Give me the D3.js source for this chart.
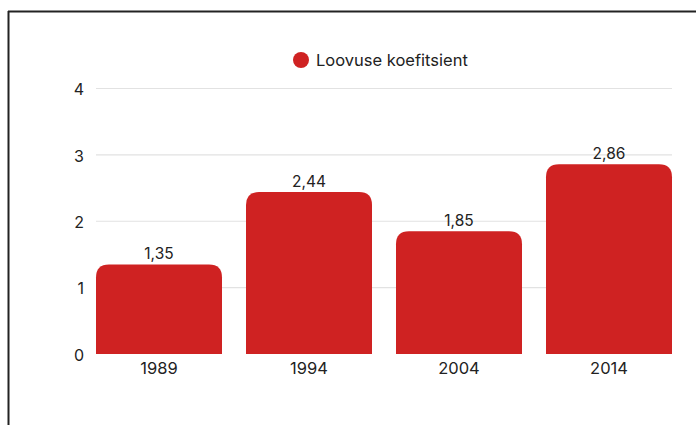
<!DOCTYPE html>
<html>
<head>
<meta charset="utf-8">
<script src="https://cdn.jsdelivr.net/npm/d3@7"></script>
<style>
body { margin: 0; background: #fff; }
text { font-family: "Inter", "Roboto", sans-serif; fill: #222; }
</style>
</head>
<body>
<script>
var years = ["1989", "1994", "2004", "2014"];
var values = [1.35, 2.44, 1.85, 2.86];
var yTicks = [0, 1, 2, 3, 4];
var seriesName = "Loovuse koefitsient";

var width = 696, height = 425;
var svg = d3.select("body").append("svg")
    .attr("width", width)
    .attr("height", height);

// frame: top and left lines only
svg.append("line").attr("x1", 8).attr("x2", width).attr("y1", 11.5).attr("y2", 11.5)
    .attr("stroke", "#222").attr("stroke-width", 2);
svg.append("line").attr("x1", 8.5).attr("x2", 8.5).attr("y1", 11).attr("y2", height)
    .attr("stroke", "#222").attr("stroke-width", 2);

var x = d3.scaleBand()
    .domain(years)
    .range([96, 672])
    .paddingInner(0.16)
    .paddingOuter(0);

var y = d3.scaleLinear()
    .domain([0, 4])
    .range([354, 88.5]);

// grid
svg.append("g")
    .selectAll("line")
    .data(yTicks.filter(d => d > 0))
    .join("line")
    .attr("x1", 96).attr("x2", 672)
    .attr("y1", d => y(d)).attr("y2", d => y(d))
    .attr("stroke", "#e2e2e2")
    .attr("stroke-width", 1.2);

// y labels
svg.append("g")
    .selectAll("text")
    .data(yTicks)
    .join("text")
    .attr("x", 84)
    .attr("y", d => y(d) + 1)
    .attr("dy", "0.36em")
    .attr("text-anchor", "end")
    .style("font-size", "16px")
    .text(d => d);

var r = 13;
function barPath(d, i) {
    var x0 = x(years[i]), x1 = x0 + x.bandwidth();
    var yt = y(d), yb = y(0);
    return "M" + x0 + "," + yb +
        "V" + (yt + r) +
        "Q" + x0 + "," + yt + " " + (x0 + r) + "," + yt +
        "H" + (x1 - r) +
        "Q" + x1 + "," + yt + " " + x1 + "," + (yt + r) +
        "V" + yb + "Z";
}

svg.append("g")
    .selectAll("path")
    .data(values)
    .join("path")
    .attr("d", barPath)
    .attr("fill", "#cf2222");

// value labels
svg.append("g")
    .selectAll("text")
    .data(values)
    .join("text")
    .attr("x", (d, i) => x(years[i]) + x.bandwidth() / 2)
    .attr("y", d => y(d) - 5)
    .attr("text-anchor", "middle")
    .style("font-size", "15.5px")
    .text(d => d.toFixed(2).replace(".", ","));

// x labels
svg.append("g")
    .selectAll("text")
    .data(years)
    .join("text")
    .attr("x", d => x(d) + x.bandwidth() / 2)
    .attr("y", 374)
    .attr("text-anchor", "middle")
    .style("font-size", "16.5px")
    .text(d => d);

// legend
svg.append("circle").attr("cx", 301).attr("cy", 60).attr("r", 8).attr("fill", "#cf2222");
svg.append("text").attr("x", 316).attr("y", 60).attr("dy", "0.36em")
    .style("font-size", "16.5px")
    .text(seriesName);
</script>
</body>
</html>
